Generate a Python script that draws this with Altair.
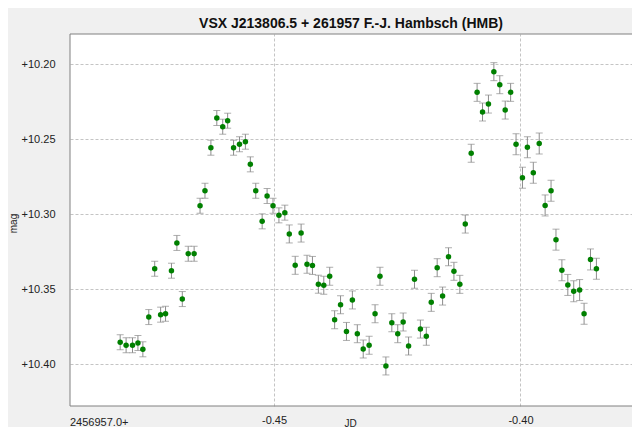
import altair as alt
import pandas as pd

title_text = "VSX J213806.5 + 261957 F.-J. Hambsch (HMB)"
jd_base_label = "2456957.0+"
x_ticks = [-0.45, -0.40]
y_ticks = [10.20, 10.25, 10.30, 10.35, 10.40]

jd = [-0.4812, -0.4800, -0.4787, -0.4776, -0.4766, -0.4754, -0.4742, -0.4730, -0.4720, -0.4708,
      -0.4697, -0.4686, -0.4674, -0.4662, -0.4650, -0.4640, -0.4628, -0.4616, -0.4604, -0.4594,
      -0.4582, -0.4570, -0.4558, -0.4548, -0.4537, -0.4524, -0.4514, -0.4502, -0.4490, -0.4478,
      -0.4469, -0.4457, -0.4445, -0.4433, -0.4422, -0.4410, -0.4399, -0.4387, -0.4377, -0.4365,
      -0.4353, -0.4341, -0.4331, -0.4319, -0.4307, -0.4295, -0.4285, -0.4273, -0.4261, -0.4249,
      -0.4238, -0.4227, -0.4215, -0.4203, -0.4191, -0.4181, -0.4169, -0.4158, -0.4146, -0.4135,
      -0.4123, -0.4112, -0.4100, -0.4088, -0.4077, -0.4065, -0.4054, -0.4042, -0.4031, -0.4020,
      -0.4009, -0.3996, -0.3986, -0.3974, -0.3962, -0.3950, -0.3938, -0.3928, -0.3916, -0.3904,
      -0.3892, -0.3880, -0.3871, -0.3858, -0.3846]

mag = [10.3853, 10.3873, 10.3873, 10.3858, 10.3900, 10.3685, 10.3363, 10.3669, 10.3663, 10.3376,
       10.3191, 10.3565, 10.3263, 10.3263, 10.2943, 10.2843, 10.2556, 10.2358, 10.2416, 10.2376,
       10.2556, 10.2533, 10.2516, 10.2667, 10.2843, 10.3047, 10.2878, 10.2943, 10.3007, 10.2989,
       10.3131, 10.3340, 10.3125, 10.3333, 10.3341, 10.3466, 10.3473, 10.3413, 10.3703, 10.3603,
       10.3781, 10.3571, 10.3796, 10.3898, 10.3873, 10.3663, 10.3413, 10.4011, 10.3723, 10.3796,
       10.3718, 10.3878, 10.3433, 10.3765, 10.3813, 10.3587, 10.3356, 10.3545, 10.3283, 10.3380,
       10.3467, 10.3065, 10.2593, 10.2187, 10.2318, 10.2265, 10.2049, 10.2136, 10.2305, 10.2187,
       10.2533, 10.2756, 10.2553, 10.2723, 10.2528, 10.2941, 10.2843, 10.3169, 10.3373, 10.3471,
       10.3513, 10.3505, 10.3663, 10.3301, 10.3363]

err = [0.005] * 30 + [0.006] * 40 + [0.007] * 15

df = pd.DataFrame({"jd": jd, "mag": mag, "err": err})
df["lo"] = df["mag"] - df["err"]
df["hi"] = df["mag"] + df["err"]

W, H = 562, 372
FONT = "Liberation Sans"
BORDER = "#808080"

xscale = alt.Scale(domain=[-0.49138, -0.37738], nice=False, zero=False)
yscale = alt.Scale(domain=[10.1798, 10.4278], nice=False, zero=False, reverse=True)

xaxis = alt.Axis(values=x_ticks, labelExpr="'-' + format(abs(datum.value), '.2f')",
                 ticks=False, domain=False, grid=True, gridColor="#c4c4c4", gridDash=[3, 2],
                 labelFont=FONT, labelFontSize=11, labelColor="#222", labelPadding=8,
                 title="JD", titleFont=FONT, titleFontSize=10, titleFontWeight="normal",
                 titleColor="#222", titleX=280, titleY=20, titleBaseline="alphabetic")
yaxis = alt.Axis(values=y_ticks, labelExpr="'+' + format(datum.value, '.2f')",
                 ticks=False, domain=False, grid=True, gridColor="#c4c4c4", gridDash=[3, 2],
                 labelFont=FONT, labelFontSize=11, labelColor="#222", labelPadding=15,
                 title="mag", titleFont=FONT, titleFontSize=10, titleFontWeight="normal",
                 titleColor="#222", titleX=-52, titleY=189, titleAngle=270)

base = alt.Chart(df)

rules = base.mark_rule(color="#8c8c8c", strokeWidth=1).encode(
    x=alt.X("jd:Q", scale=xscale, axis=xaxis),
    y=alt.Y("lo:Q", scale=yscale, axis=yaxis),
    y2="hi:Q",
)
cap_lo = base.mark_tick(color="#8c8c8c", orient="horizontal", size=7, thickness=1).encode(
    x=alt.X("jd:Q", scale=xscale), y=alt.Y("lo:Q", scale=yscale))
cap_hi = base.mark_tick(color="#8c8c8c", orient="horizontal", size=7, thickness=1).encode(
    x=alt.X("jd:Q", scale=xscale), y=alt.Y("hi:Q", scale=yscale))
points = base.mark_circle(color="#008000", size=30, opacity=1).encode(
    x=alt.X("jd:Q", scale=xscale), y=alt.Y("mag:Q", scale=yscale))

border_df = pd.DataFrame({"k": [0]})
border_left = alt.Chart(border_df).mark_rule(color=BORDER, strokeWidth=1).encode(
    x=alt.value(0), y=alt.value(0), y2=alt.value(H))
border_top = alt.Chart(border_df).mark_rule(color=BORDER, strokeWidth=1).encode(
    x=alt.value(0), x2=alt.value(W), y=alt.value(0))
border_bottom = alt.Chart(border_df).mark_rule(color=BORDER, strokeWidth=1).encode(
    x=alt.value(0), x2=alt.value(W), y=alt.value(H))

base_label = alt.Chart(pd.DataFrame({"t": [jd_base_label]})).mark_text(
    align="left", baseline="alphabetic", font=FONT, fontSize=11, color="#222"
).encode(text="t:N", x=alt.value(0), y=alt.value(H + 20))

chart = alt.layer(rules, cap_lo, cap_hi, points, border_left, border_top, border_bottom,
                  base_label).properties(
    width=W, height=H,
    title=alt.TitleParams(title_text, font=FONT, fontSize=14, fontWeight="bold",
                          color="#111", anchor="middle", offset=3),
    autosize=alt.AutoSizeParams(type="none"),
    padding={"left": 62, "top": 26, "right": 0, "bottom": 21},
).configure(background="#f0f0f0").configure_view(fill="white", stroke=None)

chart.save("out.html", embed_options={"renderer": "svg", "actions": False})
